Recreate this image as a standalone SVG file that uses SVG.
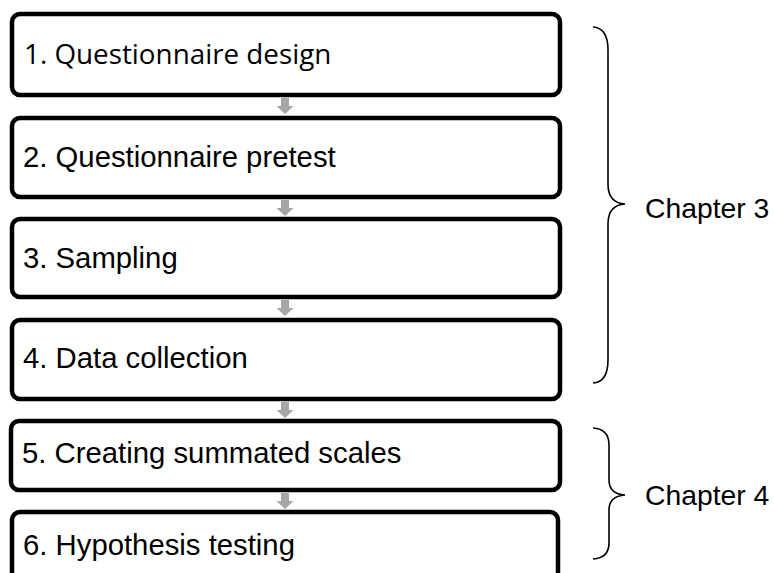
<svg xmlns="http://www.w3.org/2000/svg" width="774" height="573" viewBox="0 0 774 573">
<style>
.box{fill:#fff;stroke:#000;stroke-width:4.5}
.t{font-family:"Liberation Sans",Arial,sans-serif;font-size:29.3px;fill:#000}
.t1{font-family:"Open Sans","Liberation Sans",sans-serif;font-size:27.8px;fill:#000}
.ch{font-family:"Liberation Sans",Arial,sans-serif;font-size:28.3px;fill:#000}
.arr{fill:#a6a6a6}
.brace{fill:none;stroke:#000;stroke-width:1.6}
</style>
<defs>
<path id="dn" d="M-4,0 L4,0 L4,8 L8.5,8 L0,16 L-8.5,8 L-4,8 Z"/>
</defs>
<rect width="774" height="573" fill="#fff"/>
<g id="connectors">
<use href="#dn" class="arr" x="285" y="98"/>
<use href="#dn" class="arr" x="285" y="200"/>
<use href="#dn" class="arr" x="285" y="300"/>
<use href="#dn" class="arr" x="285" y="402"/>
<use href="#dn" class="arr" x="285" y="493"/>
</g>
<g id="n1"><rect class="box" x="12" y="14" width="548" height="81" rx="8"/><text class="t1" x="24" y="64">1. Questionnaire design</text></g>
<g id="n2"><rect class="box" x="12" y="118" width="548" height="79" rx="8"/><text class="t" x="23" y="167">2. Questionnaire pretest</text></g>
<g id="n3"><rect class="box" x="12" y="219" width="548" height="78" rx="8"/><text class="t" x="23" y="268">3. Sampling</text></g>
<g id="n4"><rect class="box" x="12" y="320" width="548" height="79" rx="8"/><text class="t" x="23" y="368">4. Data collection</text></g>
<g id="n5"><rect class="box" x="11" y="421" width="549" height="69" rx="8"/><text class="t" x="22" y="463">5. Creating summated scales</text></g>
<g id="n6"><rect class="box" x="12" y="512" width="546" height="80" rx="8"/><text class="t" x="23" y="555">6. Hypothesis testing</text></g>
<g id="chapter3">
<path class="brace" d="M593,27 Q608,28 608,50 L608,184 Q608,203 625,204 Q608,205 608,224 L608,360 Q608,382 593,383"/>
<text class="ch" x="645" y="218">Chapter 3</text>
</g>
<g id="chapter4">
<path class="brace" d="M593,428 Q609,429 609,445 L609,480 Q609,494 625,495 Q609,496 609,510 L609,543 Q609,558 593,559"/>
<text class="ch" x="645" y="505">Chapter 4</text>
</g>
</svg>
